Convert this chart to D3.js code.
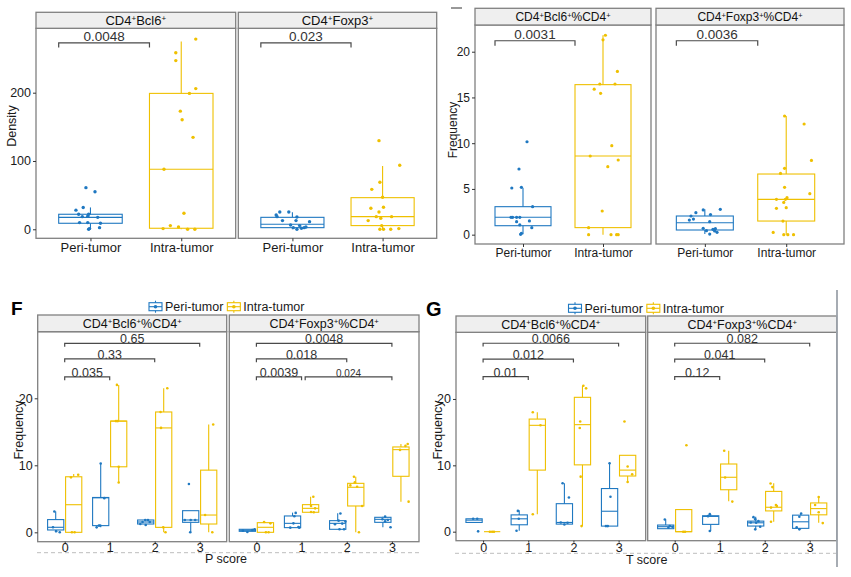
<!DOCTYPE html>
<html><head><meta charset="utf-8">
<script src="https://cdn.jsdelivr.net/npm/d3@7"></script>
<style>
body{margin:0;background:#fff}
svg{display:block}
text{font-family:"Liberation Sans",Arial,Helvetica,sans-serif}
</style>
</head><body>
<svg id="c" width="851" height="577"></svg>
<script>
// ---------------- DATA ----------------
const groups = ["Peri-tumor", "Intra-tumor"];
const scoreCats = ["0", "1", "2", "3"];
const densTicks = [0, 100, 200];
const pctTicks = [0, 5, 10, 15, 20];
const scoreTicks = [0, 10, 20];

// box stats: [q1, median, q3, whiskerLow, whiskerHigh]
// Top-left: density
const dBcl6PeriBox = [8.8, 17.5, 22, 0, 32];
const dBcl6PeriVals = [61, 55, 32, 28, 22, 22, 18.5, 19, 17.5, 9.8, 9.8, 8.8, 0, 1, 2.4];
const dBcl6PeriJit = [-0.05, 0.05, -0.08, -0.16, -0.13, -0.02, -0.09, -0.03, 0.08, -0.12, -0.03, 0.11, -0.02, -0.01, 0.1];
const dBcl6IntraBox = [1.5, 88, 199, 0, 275];
const dBcl6IntraVals = [278.5, 258.5, 247, 206, 199, 173, 160.5, 134.6, 88, 23.4, 1, 5.4, 3.4, 0, 0];
const dBcl6IntraJit = [0.16, -0.06, -0.06, 0.16, 0.09, -0.01, 0.01, 0.13, -0.19, 0.03, -0.2, -0.12, -0.03, 0.07, 0.15];

const dFoxPeriBox = [2.4, 7.3, 17.5, 0, 25];
const dFoxPeriVals = [25.4, 25.4, 21, 18.5, 18, 12.7, 12.7, 11.2, 6.3, 2.4, 5.4, 1.5, 2.4, 0, 3.4];
const dFoxPeriJit = [-0.14, -0.04, -0.18, -0.17, 0.05, -0.11, 0.04, 0.19, -0.02, 0.01, 0.08, 0.1, 0.13, 0.05, 0.15];
const dFoxIntraBox = [5.4, 18.5, 46.3, 0, 92.7];
const dFoxIntraVals = [129.8, 93.7, 68.8, 58.5, 46.8, 30.7, 32.2, 25.4, 18.5, 16.1, 18.5, 12.7, 5.4, 0, 0, 0, 1];
const dFoxIntraJit = [-0.04, 0.19, -0.03, -0.12, 0, -0.13, 0.01, -0.04, -0.07, -0.02, 0.1, -0.16, -0.01, -0.03, 0.01, 0.09, 0.18];

// Top-right: frequency (% of CD4)
const pBcl6PeriBox = [0.98, 1.9, 3.06, 0.04, 5.1];
const pBcl6PeriVals = [10.16, 7.18, 5.17, 5.1, 3.06, 1.9, 1.9, 1.9, 1.9, 1.5, 1.42, 1.06, 0.77, 0.15, 0.04];
const pBcl6PeriJit = [0.05, -0.05, -0.02, -0.14, 0.12, -0.15, -0.13, -0.08, -0.04, 0.08, -0.08, -0.04, 0.11, -0.02, -0.03];
const pBcl6IntraBox = [0.77, 8.6, 16.4, 0, 21.8];
const pBcl6IntraVals = [21.8, 21.3, 17.85, 16.47, 16.47, 15.9, 15.45, 9.73, 8.6, 8.16, 7.43, 2.59, 0.77, 0, 0, 0, 0];
const pBcl6IntraJit = [0.03, 0, 0.18, -0.04, 0.15, -0.11, -0.03, 0.11, -0.16, 0.19, 0.06, -0.01, -0.18, -0.18, 0.1, 0.17, 0.19];

const pFoxPeriBox = [0.51, 1.31, 2.04, 0.07, 2.77];
const pFoxPeriVals = [2.77, 2.7, 2.2, 2.4, 2.04, 1.71, 1.6, 1.42, 0.69, 0.44, 0.58, 0.66, 0.4, 0.07, 0.26];
const pFoxPeriJit = [0.19, -0.02, 0.07, -0.11, -0.17, -0.14, -0.19, 0.06, -0.02, 0.02, 0.1, 0.13, 0.12, 0.06, 0.15];
const pFoxIntraBox = [1.49, 3.86, 6.63, 0, 12.97];
const pFoxIntraVals = [12.97, 12.1, 8.12, 7.25, 6.7, 5.17, 4.04, 4.48, 3.86, 3.86, 3.53, 2.95, 2.88, 1.49, 0.25, 0, 0, 0];
const pFoxIntraJit = [-0.02, 0.22, 0.31, -0.02, -0.07, -0.02, 0.01, 0.29, -0.01, -0.12, -0.03, 0, -0.12, -0.04, -0.16, -0.03, 0.02, 0.09];

// F: by P score
const fBcl6PeriBox = [[0.35, 0.75, 1.9, 0, 3.1], [1.0, 5.15, 5.2, 0.74, 10.27], [1.24, 1.54, 1.84, 1.1, 1.84], [1.49, 1.84, 3.23, 0, 3.23]];
const fBcl6PeriVals = [[3.1, 0.75, 0.15, 0], [10.27, 5.1, 0.74, 1.0, 1.0], [1.24, 1.54, 1.84, 1.84, 1.54, 1.1], [7.2, 1.84, 1.84, 1.84, 0]];
const fBcl6PeriJit = [[-0.03, -0.06, 0.01, 0.09], [0, 0.08, -0.09, -0.04, -0.01], [-0.12, -0.07, -0.01, 0.05, 0.09, 0], [-0.04, -0.13, 0, 0.1, -0.01]];
const fBcl6IntraBox = [[0, 4.12, 8.29, 0, 8.7], [9.78, 16.6, 16.6, 7.44, 22], [0.74, 15.58, 17.96, 0, 21.5], [1.24, 2.58, 9.28, 0, 16.08]];
const fBcl6IntraVals = [[8.2, 8.6, 0, 0], [22, 16.6, 16.6, 9.78, 7.44], [21.5, 17.96, 15.58, 0.74, 0], [16.08, 2.58, 0]];
const fBcl6IntraJit = [[-0.06, 0.1, -0.04, 0.02], [-0.04, -0.06, -0.02, 0, 0], [0.08, -0.07, -0.06, -0.01, 0.04], [0.1, -0.08, 0.08]];

const fFoxPeriBox = [[0.15, 0.3, 0.45, 0.05, 0.45], [0.7, 1.34, 2.44, 0.7, 2.94], [0.45, 1.34, 1.74, 0.45, 2.84], [1.49, 1.94, 2.24, 0.75, 2.34]];
const fFoxPeriVals = [[0.05, 0.35, 0.45, 0.25], [2.9, 2.39, 1.34, 0.8, 0.7, 0.7], [2.8, 1.74, 1.3, 1.6, 1.2, 0.45, 0.45], [2.34, 1.94, 1.84, 0.75, 1.64]];
const fFoxPeriJit = [[0, 0.11, 0.16, -0.1], [0.07, 0.04, 0.02, 0.13, -0.05, 0.15], [0.06, 0.02, 0.1, 0.17, -0.06, 0.04, 0.14], [0.05, -0.01, 0.11, 0.17, 0.05]];
const fFoxIntraBox = [[0, 0.75, 1.44, 0, 1.54], [2.99, 3.58, 4.13, 2.99, 5.3], [3.93, 6.72, 7.31, 0, 8.3], [8.36, 12.34, 12.74, 4.58, 13.18]];
const fFoxIntraVals = [[1.54, 1.34, 0, 0], [5.3, 3.93, 3.58, 3.03, 2.99], [8.3, 7.46, 7.0, 6.8, 3.93, 0], [13.18, 12.9, 12.3, 4.58]];
const fFoxIntraJit = [[-0.03, 0.11, 0.01, 0.07], [0.06, 0.01, 0.1, 0.01, 0.07], [-0.04, -0.02, -0.12, 0.03, 0.14, 0.07], [0.15, 0.1, -0.02, 0.17]];

// G: by T score
const gBcl6PeriBox = [[1.39, 1.74, 1.94, 1.39, 1.94], [1.04, 1.94, 2.53, 0.15, 3.23], [1.14, 1.39, 4.22, 1.09, 7.3], [0.84, 3.08, 6.5, 0.84, 10.32]];
const gBcl6PeriVals = [[1.94, 1.94, 0.05], [3.13, 1.94, 0.15], [7.3, 5.16, 1.39, 1.09, 1.34], [10.32, 5.26, 0.84, 0.84]];
const gBcl6PeriJit = [[-0.02, 0.07, 0.09], [-0.03, -0.01, -0.06], [-0.04, 0.1, -0.08, 0, 0.07], [0, 0.02, -0.08, -0.04]];
const gBcl6IntraBox = [[0, 0, 0, 0, 0], [9.28, 16.03, 16.97, 2.63, 18.0], [10.07, 16.13, 20.25, 0.84, 22], [8.39, 9.28, 11.51, 7.49, 11.51]];
const gBcl6IntraVals = [[0, 0, 0], [18.0, 16.03, 2.63], [22, 21.6, 16.6, 15.63, 8.29, 0.84], [16.6, 9.83, 8.64, 7.49]];
const gBcl6IntraJit = [[-0.05, 0, 0.04], [-0.1, 0.07, -0.1], [0.02, 0.08, -0.05, -0.06, -0.04, -0.02], [-0.07, 0, 0.1, 0]];

const gFoxPeriBox = [[0.45, 0.75, 1.0, 0.45, 1.84], [1.1, 2.3, 2.4, 0.1, 2.64], [0.85, 1.34, 1.59, 0.35, 2.24], [0.5, 1.49, 2.49, 0.35, 2.74]];
const gFoxPeriVals = [[1.84, 0.85, 0.6, 0.75], [2.64, 2.34, 0.1], [2.19, 1.89, 1.59, 1.39, 1.34, 0.75, 0.35], [2.74, 2.24, 0.65, 0.35]];
const gFoxPeriJit = [[-0.02, 0.09, 0.06, 0.15], [-0.02, -0.06, -0.02], [-0.05, -0.01, 0.06, -0.11, 0.01, 0.1, -0.01], [0.01, -0.03, -0.09, -0.03]];
const gFoxIntraBox = [[0, 0, 3.33, 0, 3.33], [6.32, 8.2, 10.2, 4.58, 12.19], [3.13, 3.68, 6.07, 1.49, 7.31], [2.54, 3.48, 4.33, 1.34, 5.22]];
const gFoxIntraVals = [[13.03, 0, 0], [12.19, 8.16, 4.53], [7.26, 6.72, 4.03, 3.63, 3.88, 1.49], [5.22, 4.03, 2.93, 1.29]];
const gFoxIntraJit = [[0.06, -0.01, 0.03], [-0.1, -0.08, 0.08], [-0.07, -0.03, 0.05, -0.06, 0.07, -0.06], [0, -0.08, 0, 0.09]];

// p-value brackets: [fromCategory, toCategory, y, label]
const dBcl6Br = [[0, 1, 273, "0.0048"]];
const dFoxBr = [[0, 1, 273, "0.023"]];
const pBcl6Br = [[0, 1, 21.2, "0.0031"]];
const pFoxBr = [[0, 1, 21.2, "0.0036"]];
const fBcl6Br = [[0, 3, 28.2, "0.65"], [0, 2, 25.87, "0.33"], [0, 1, 23.2, "0.035"]];
const fFoxBr = [[0, 3, 28.2, "0.0048"], [0, 2, 25.87, "0.018"], [0, 1, 23.2, "0.0039"], [1.08, 3, 23.2, "0.024", true]];
const gBcl6Br = [[0, 3, 28.4, "0.0066"], [0, 2, 26.0, "0.012"], [0, 1, 23.36, "0.01"]];
const gFoxBr = [[0, 3, 28.4, "0.082"], [0, 2, 26.0, "0.041"], [0, 1, 23.36, "0.12"]];

// ---------------- DRAWING ----------------
const BLUE = "#1F78C1", GOLD = "#EFC000";
const BORDER = "#808080", STRIP = "#efefef", TXT = "#1a1a1a";
const svg = d3.select("#c");

function rich(sel, label) {
  label.split(/(\^\+)/).forEach(p => {
    if (p === "^+") sel.append("tspan").attr("font-size", "62%").attr("baseline-shift", "48%").text("+");
    else if (p) sel.append("tspan").text(p);
  });
}

function drawPanel(o) {
  const g = svg.append("g");
  const n = o.cats.length;
  const pTop = o.yTop + o.stripH;
  const x = d3.scaleLinear().domain([-0.6, n - 1 + (o.padR ?? 0.6)]).range([o.x0, o.x1]);
  const y = d3.scaleLinear().domain(o.yDomain).range([o.y1, pTop]);

  g.append("rect").attr("x", o.x0).attr("y", pTop).attr("width", o.x1 - o.x0)
    .attr("height", o.y1 - pTop).attr("fill", "#fff");

  o.series.forEach(s => {
    s.box.forEach((b, i) => {
      const c = (s.start || 0) + i;
      const cx = x(c + s.off), hw = x(s.w / 2) - x(0);
      const [q1, med, q3, lo, hi] = b;
      const st = sel => sel.attr("stroke", s.color).attr("stroke-width", o.bw || 1.1).attr("fill", "none");
      g.append("line").attr("x1", cx).attr("x2", cx).attr("y1", y(hi)).attr("y2", y(q3)).call(st);
      g.append("line").attr("x1", cx).attr("x2", cx).attr("y1", y(q1)).attr("y2", y(lo)).call(st);
      g.append("rect").attr("x", cx - hw).attr("y", y(q3)).attr("width", 2 * hw)
        .attr("height", Math.max(0, y(q1) - y(q3))).call(st);
      g.append("line").attr("x1", cx - hw).attr("x2", cx + hw).attr("y1", y(med)).attr("y2", y(med)).call(st);
    });
    s.vals.forEach((arr, i) => {
      const c = (s.start || 0) + i;
      arr.forEach((v, k) => {
        g.append("circle").attr("cx", x(c + s.off + s.jit[i][k])).attr("cy", y(v))
          .attr("r", o.pr || 1.6).attr("fill", s.color);
      });
    });
  });

  // brackets
  (o.brackets || []).forEach(br => {
    const [a, b, v, lab, small] = br;
    const xa = x(a + (o.brShift || 0)), xb = x(b + (o.brShift || 0)), yy = y(v);
    g.append("path").attr("d", `M${xa},${yy + o.tip}V${yy}H${xb}V${yy + o.tip}`)
      .attr("fill", "none").attr("stroke", "#4a4a4a").attr("stroke-width", 1.2);
    g.append("text").attr("x", (xa + xb) / 2).attr("y", yy + (o.brDy || 0))
      .attr("text-anchor", "middle").attr("font-size", small ? o.brFont * 0.8 : o.brFont)
      .attr("fill", "#333").text(lab);
  });

  // border
  g.append("rect").attr("x", o.x0).attr("y", pTop).attr("width", o.x1 - o.x0)
    .attr("height", o.y1 - pTop).attr("fill", "none").attr("stroke", BORDER).attr("stroke-width", 1.3);
  // strip
  g.append("rect").attr("x", o.x0).attr("y", o.yTop).attr("width", o.x1 - o.x0)
    .attr("height", o.stripH).attr("fill", STRIP).attr("stroke", BORDER).attr("stroke-width", 1.3);
  const st = g.append("text").attr("x", (o.x0 + o.x1) / 2).attr("y", o.yTop + o.stripH / 2 + o.stripFont * 0.36)
    .attr("text-anchor", "middle").attr("font-size", o.stripFont).attr("fill", "#111");
  rich(st, o.title);

  // y axis
  if (o.showY) {
    const ya = g.append("g").attr("transform", `translate(${o.x0},0)`)
      .call(d3.axisLeft(y).tickValues(o.yTicks).tickSize(3).tickPadding(2).tickFormat(d3.format("d")));
    ya.select(".domain").remove();
    ya.selectAll("line").attr("stroke", "#333");
    ya.selectAll("text").attr("font-size", o.yFont).attr("fill", TXT)
      .style("font-family", '"Liberation Sans",Arial,sans-serif');
  }
  // x axis
  const xa = g.append("g").attr("transform", `translate(0,${o.y1})`)
    .call(d3.axisBottom(x).tickValues(d3.range(n)).tickFormat(i => o.cats[i]).tickSize(o.xTick).tickPadding(0));
  xa.select(".domain").remove();
  xa.selectAll("line").attr("stroke", "#333");
  xa.selectAll("text").attr("font-size", o.xFont).attr("fill", TXT).attr("dy", 0)
    .attr("y", o.xBase - o.y1).style("font-family", '"Liberation Sans",Arial,sans-serif');
}

function periIntraSeries(pb, pv, pj, ib, iv, ij) {
  return [
    { box: [pb], vals: [pv], jit: [pj], color: BLUE, off: 0, w: 0.7, start: 0 },
    { box: [ib], vals: [iv], jit: [ij], color: GOLD, off: 0, w: 0.7, start: 1 }
  ];
}
function dodgeSeries(pb, pv, pj, ib, iv, ij) {
  return [
    { box: pb, vals: pv, jit: pj, color: BLUE, off: -0.2, w: 0.36 },
    { box: ib, vals: iv, jit: ij, color: GOLD, off: 0.2, w: 0.36 }
  ];
}

// ---- Top-left: density ----
const tlCommon = { yTop: 12.3, stripH: 16, y1: 238.3, yDomain: [-13.2, 294.3], yTicks: densTicks,
  cats: groups, stripFont: 13, xFont: 13, yFont: 12.5, xTick: 3, xBase: 252,
  tip: 4.6, brShift: -0.35, brFont: 13.5, brDy: -1.5, pr: 1.7 };
drawPanel(Object.assign({}, tlCommon, { x0: 36, x1: 235.7, title: "CD4^+Bcl6^+", showY: true,
  series: periIntraSeries(dBcl6PeriBox, dBcl6PeriVals, dBcl6PeriJit, dBcl6IntraBox, dBcl6IntraVals, dBcl6IntraJit),
  brackets: dBcl6Br }));
drawPanel(Object.assign({}, tlCommon, { x0: 238.3, x1: 436.7, title: "CD4^+Foxp3^+", showY: false,
  series: periIntraSeries(dFoxPeriBox, dFoxPeriVals, dFoxPeriJit, dFoxIntraBox, dFoxIntraVals, dFoxIntraJit),
  brackets: dFoxBr }));

// ---- Top-right: frequency ----
const trCommon = { yTop: 8.3, stripH: 16.7, y1: 244, yDomain: [-1.02, 22.92], yTicks: pctTicks,
  cats: groups, stripFont: 12, xFont: 12, yFont: 12, xTick: 3, xBase: 256.5,
  tip: 5, brShift: -0.35, brFont: 13.5, brDy: -1.5, pr: 1.6 };
drawPanel(Object.assign({}, trCommon, { x0: 475, x1: 651, title: "CD4^+Bcl6^+%CD4^+", showY: true,
  series: periIntraSeries(pBcl6PeriBox, pBcl6PeriVals, pBcl6PeriJit, pBcl6IntraBox, pBcl6IntraVals, pBcl6IntraJit),
  brackets: pBcl6Br }));
drawPanel(Object.assign({}, trCommon, { x0: 656, x1: 844, padR: 0.71, title: "CD4^+Foxp3^+%CD4^+", showY: false,
  series: periIntraSeries(pFoxPeriBox, pFoxPeriVals, pFoxPeriJit, pFoxIntraBox, pFoxIntraVals, pFoxIntraJit),
  brackets: pFoxBr }));

// ---- F: P score ----
const fCommon = { yTop: 315, stripH: 16.7, y1: 541.7, yDomain: [-1.40, 29.94], yTicks: scoreTicks,
  cats: scoreCats, stripFont: 12.5, xFont: 12.5, yFont: 12.5, xTick: 2, xBase: 552,
  tip: 3.3, brFont: 12.5, brDy: 0, pr: 1.3 };
drawPanel(Object.assign({}, fCommon, { x0: 37.7, x1: 226.7, title: "CD4^+Bcl6^+%CD4^+", showY: true,
  series: dodgeSeries(fBcl6PeriBox, fBcl6PeriVals, fBcl6PeriJit, fBcl6IntraBox, fBcl6IntraVals, fBcl6IntraJit),
  brackets: fBcl6Br }));
drawPanel(Object.assign({}, fCommon, { x0: 229.3, x1: 419, title: "CD4^+Foxp3^+%CD4^+", showY: false,
  series: dodgeSeries(fFoxPeriBox, fFoxPeriVals, fFoxPeriJit, fFoxIntraBox, fFoxIntraVals, fFoxIntraJit),
  brackets: fFoxBr }));

// ---- G: T score ----
const gCommon = { yTop: 316, stripH: 16.3, y1: 540.7, yDomain: [-1.36, 30.05], yTicks: scoreTicks,
  cats: scoreCats, stripFont: 12.5, xFont: 12.5, yFont: 12.5, xTick: 2, xBase: 552,
  tip: 3.3, brFont: 12.5, brDy: 0, pr: 1.3 };
drawPanel(Object.assign({}, gCommon, { x0: 456, x1: 645.7, title: "CD4^+Bcl6^+%CD4^+", showY: true,
  series: dodgeSeries(gBcl6PeriBox, gBcl6PeriVals, gBcl6PeriJit, gBcl6IntraBox, gBcl6IntraVals, gBcl6IntraJit),
  brackets: gBcl6Br }));
drawPanel(Object.assign({}, gCommon, { x0: 647.7, x1: 836.7, title: "CD4^+Foxp3^+%CD4^+", showY: false,
  series: dodgeSeries(gFoxPeriBox, gFoxPeriVals, gFoxPeriJit, gFoxIntraBox, gFoxIntraVals, gFoxIntraJit),
  brackets: gFoxBr }));

// ---- axis titles ----
function yTitle(xp, yp, t, fs) {
  svg.append("text").attr("transform", `translate(${xp},${yp}) rotate(-90)`)
    .attr("text-anchor", "middle").attr("font-size", fs).attr("fill", TXT).text(t);
}
yTitle(16, 126, "Density", 12.5);
yTitle(456.5, 130, "Frequency", 12);
yTitle(22.5, 430, "Frequency", 12.5);
yTitle(441.5, 430, "Frequency", 12.5);

svg.append("text").attr("x", 226).attr("y", 563).attr("text-anchor", "middle")
  .attr("font-size", 12.5).attr("fill", TXT).text("P score");
svg.append("text").attr("x", 646.7).attr("y", 563.5).attr("text-anchor", "middle")
  .attr("font-size", 12.5).attr("fill", TXT).text("T score");

// dashed separators
[[37, 419, 552.7], [455, 836, 553.3]].forEach(([a, b, yy]) => {
  svg.append("line").attr("x1", a).attr("x2", b).attr("y1", yy).attr("y2", yy)
    .attr("stroke", "#bdbdbd").attr("stroke-width", 1).attr("stroke-dasharray", "4,3");
});

// legends
function legend(x0, yc) {
  let xx = x0;
  groups.forEach((gname, i) => {
    const col = i === 0 ? BLUE : GOLD;
    const lg = svg.append("g");
    lg.append("rect").attr("x", xx + 1).attr("y", yc - 4).attr("width", 13).attr("height", 8)
      .attr("fill", "#fff").attr("stroke", col).attr("stroke-width", 1.1);
    lg.append("line").attr("x1", xx + 1).attr("x2", xx + 14).attr("y1", yc).attr("y2", yc).attr("stroke", col).attr("stroke-width", 1.1);
    lg.append("line").attr("x1", xx + 7.5).attr("x2", xx + 7.5).attr("y1", yc - 6).attr("y2", yc - 4).attr("stroke", col).attr("stroke-width", 1.1);
    lg.append("line").attr("x1", xx + 7.5).attr("x2", xx + 7.5).attr("y1", yc + 4).attr("y2", yc + 6).attr("stroke", col).attr("stroke-width", 1.1);
    lg.append("circle").attr("cx", xx + 7.5).attr("cy", yc).attr("r", 1.8).attr("fill", col);
    const t = lg.append("text").attr("x", xx + 17).attr("y", yc + 4.4).attr("font-size", 12.5).attr("fill", TXT).text(gname);
    xx += 17 + t.node().getComputedTextLength() + 3;
  });
}
legend(148, 306.7);
legend(567.5, 308.3);

// panel letters
svg.append("text").attr("x", 11).attr("y", 315).attr("font-size", 19).attr("font-weight", "bold").attr("fill", "#000").text("F");
svg.append("text").attr("x", 426).attr("y", 316).attr("font-size", 20).attr("font-weight", "bold").attr("fill", "#000").text("G");

// decorations
svg.append("line").attr("x1", 451).attr("x2", 462).attr("y1", 8).attr("y2", 8).attr("stroke", "#333").attr("stroke-width", 1);
svg.append("line").attr("x1", 837).attr("x2", 837).attr("y1", 290).attr("y2", 567).attr("stroke", "#9da3ab").attr("stroke-width", 1.8);
</script>
</body></html>
